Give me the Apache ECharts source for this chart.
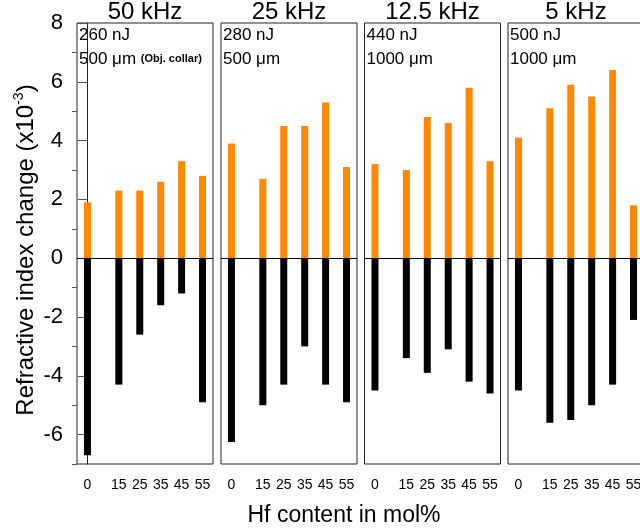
<!DOCTYPE html>
<html><head><meta charset="utf-8">
<script src="https://cdn.jsdelivr.net/npm/echarts@6/dist/echarts.min.js"></script>
<style>html,body{margin:0;padding:0;background:#fff}#c{width:640px;height:531px}</style>
</head><body><div id="c"></div>
<script>
const hfContent = [0, 15, 25, 35, 45, 55];
const panelTitles = ['50 kHz', '25 kHz', '12.5 kHz', '5 kHz'];
const pulseEnergy = ['260 nJ', '280 nJ', '440 nJ', '500 nJ'];
const focusDepth = ['500 μm {s|(Obj. collar)}', '500 μm', '1000 μm', '1000 μm'];
const positive50 = [1.9, 2.3, 2.3, 2.6, 3.3, 2.8];
const negative50 = [-6.7, -4.3, -2.6, -1.6, -1.2, -4.9];
const positive25 = [3.9, 2.7, 4.5, 4.5, 5.3, 3.1];
const negative25 = [-6.25, -5.0, -4.3, -3.0, -4.3, -4.9];
const positive12 = [3.2, 3.0, 4.8, 4.6, 5.8, 3.3];
const negative12 = [-4.5, -3.4, -3.9, -3.1, -4.2, -4.6];
const positive5 = [4.1, 5.1, 5.9, 5.5, 6.4, 1.8];
const negative5 = [-4.5, -5.6, -5.5, -5.0, -4.3, -2.1];
const yMajorTicks = [-6, -4, -2, 0, 2, 4, 6, 8];
const yMinorTicks = [-7, -5, -3, -1, 1, 3, 5, 7];

const positives = [positive50, positive25, positive12, positive5];
const negatives = [negative50, negative25, negative12, negative5];

const FONT = '"Liberation Sans", Arial, sans-serif';
const gridLefts = [77, 221, 364.5, 508];
const gridW = 136, gridTop = 23, gridH = 441;

const grids = gridLefts.map(l => ({
  left: l, top: gridTop, width: gridW, height: gridH,
  show: true, borderColor: '#222', borderWidth: 1, backgroundColor: 'transparent',
  containLabel: false, outerBoundsMode: 'none'
}));

const xAxes = gridLefts.map((l, i) => ({
  gridIndex: i, type: 'value', min: -5, max: 60,
  axisLine: { show: false }, splitLine: { show: false },
  axisTick: { show: true, customValues: hfContent, length: 8, lineStyle: { color: '#777', width: 1 } },
  axisLabel: { customValues: hfContent, fontSize: 14, color: '#000', margin: 14, fontFamily: FONT }
}));

const yAxes = gridLefts.map((l, i) => {
  if (i === 0) {
    return {
      gridIndex: 0, type: 'value', min: -7, max: 8, position: 'left',
      axisLine: { show: true, lineStyle: { color: '#222', width: 1 } },
      splitLine: { show: false },
      axisTick: { show: true, customValues: yMajorTicks, length: 10, lineStyle: { color: '#555' } },
      axisLabel: { customValues: yMajorTicks, fontSize: 22, color: '#000', margin: 14, fontFamily: FONT }
    };
  }
  return {
    gridIndex: i, type: 'value', min: -7, max: 8,
    axisLine: { show: false }, axisTick: { show: false }, axisLabel: { show: false }, splitLine: { show: false }
  };
});
yAxes.push({
  gridIndex: 0, type: 'value', min: -7, max: 8, position: 'left',
  axisLine: { show: false }, splitLine: { show: false }, axisLabel: { show: false },
  axisTick: { show: true, customValues: yMinorTicks, length: 5, lineStyle: { color: '#555' } }
});

const series = [];
positives.forEach((pos, i) => {
  series.push({
    type: 'bar', xAxisIndex: i, yAxisIndex: i, barWidth: 7, barGap: '-100%',
    itemStyle: { color: '#ff8800' },
    data: hfContent.map((x, j) => [x, pos[j]]),
    markLine: {
      silent: true, symbol: ['none', 'none'], label: { show: false },
      lineStyle: { color: '#000', width: 1, type: 'solid' },
      data: [{ yAxis: 0 }]
    }
  });
  series.push({
    type: 'bar', xAxisIndex: i, yAxisIndex: i, barWidth: 7, barGap: '-100%',
    itemStyle: { color: '#000' },
    data: hfContent.map((x, j) => [x, negatives[i][j]])
  });
});

const graphics = [];
gridLefts.forEach((l, i) => {
  graphics.push({ type: 'text', x: l + gridW / 2, y: 12, style: { text: panelTitles[i], font: '24px ' + FONT, fill: '#000', align: 'center', verticalAlign: 'middle' } });
  graphics.push({ type: 'text', x: l + 2, y: 35, style: { text: pulseEnergy[i], font: '17px ' + FONT, fill: '#000', align: 'left', verticalAlign: 'middle' } });
  graphics.push({ type: 'text', x: l + 2, y: 59, style: {
    text: focusDepth[i], font: '17px ' + FONT, fill: '#000', align: 'left', verticalAlign: 'middle',
    rich: { s: { font: 'bold 11px ' + FONT, fill: '#000' } }
  } });
});
graphics.push({ type: 'text', x: 344, y: 516, style: { text: 'Hf content in mol%', font: '23px ' + FONT, fill: '#000', align: 'center', verticalAlign: 'middle' } });
graphics.push({ type: 'text', x: 26, y: 250, rotation: Math.PI / 2, style: {
  text: '{a|Refractive index change (x10}{sup|-3}{a|)}', align: 'center', verticalAlign: 'middle',
  rich: {
    a: { font: '24px ' + FONT, fill: '#000', lineHeight: 28 },
    sup: { font: '14px ' + FONT, fill: '#000', verticalAlign: 'top', lineHeight: 28 }
  }
} });

const chart = echarts.init(document.getElementById('c'), null, { renderer: 'canvas' });
chart.setOption({
  animation: false,
  backgroundColor: '#fff',
  grid: grids,
  xAxis: xAxes,
  yAxis: yAxes,
  series: series,
  graphic: graphics
});
</script>
</body></html>
